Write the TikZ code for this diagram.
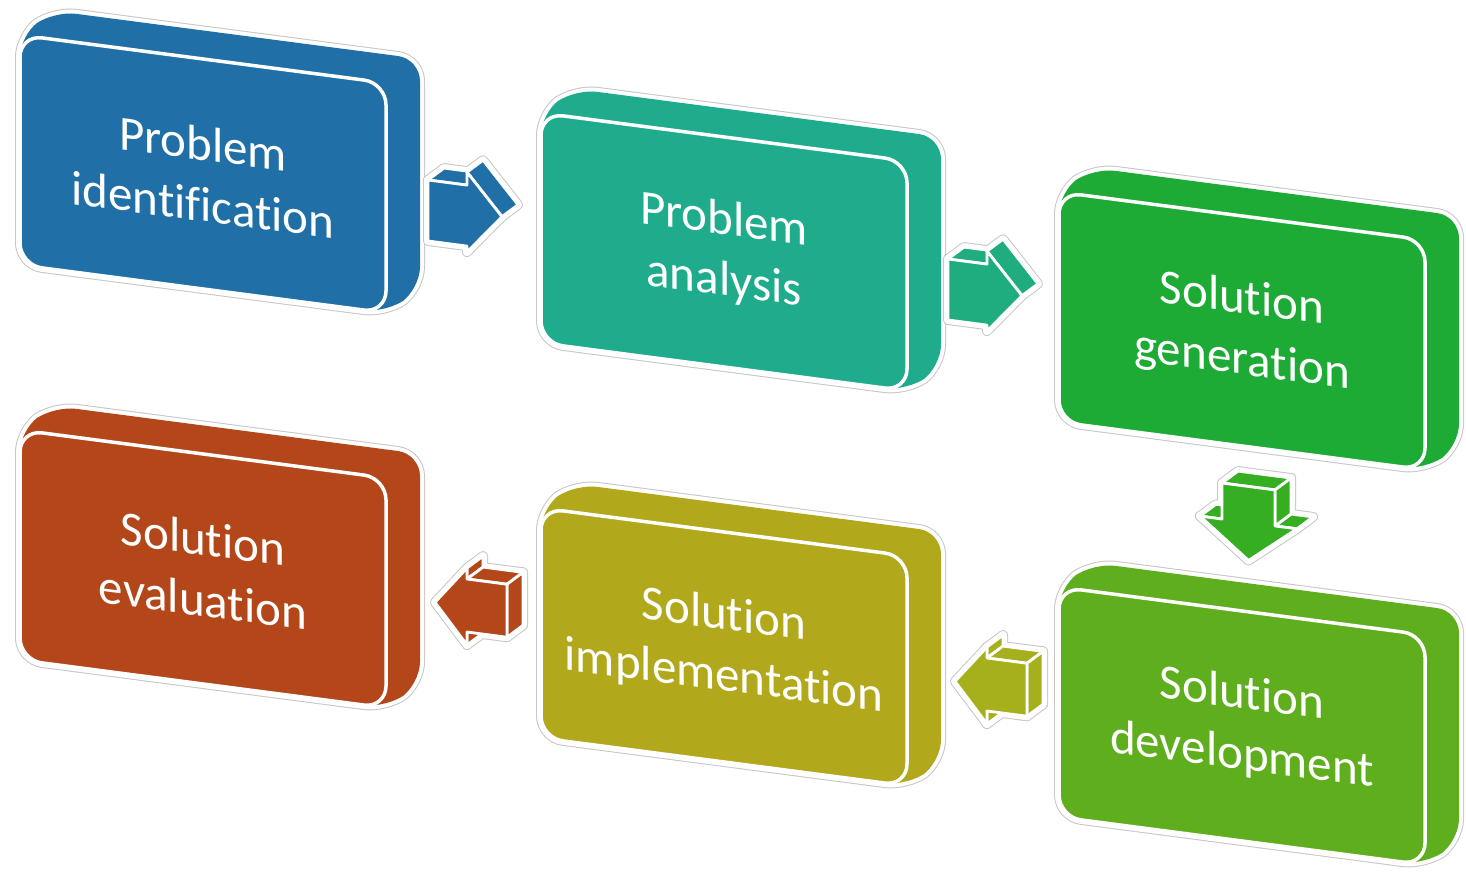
\documentclass[tikz,border=0pt]{standalone}
\usepackage{fontspec}
\setmainfont{Carlito}[Ligatures=CommonOff]
\definecolor{probblue}{HTML}{2070A7}
\definecolor{probteal}{HTML}{1FAC8C}
\definecolor{solgreen}{HTML}{1DAB36}
\definecolor{sollime}{HTML}{5FAE1E}
\definecolor{sololive}{HTML}{B1A81C}
\definecolor{solrust}{HTML}{B4471A}
\definecolor{arrteal}{HTML}{1FAD80}
\definecolor{arrgreen}{HTML}{35AE22}
\definecolor{arrlime}{HTML}{A5B01C}
\tikzset{
	glowline/.style={draw=gray!45,line width=5pt,line join=round},
	glowfill/.style={draw=white,line width=4pt,line join=round},
	facefill/.style={fill=#1,draw=white,line width=1.4pt,line join=round},
	frontface/.style={fill=#1,draw=white,line width=1.75pt},
	boxtext/.style={transform shape,text=white,align=center,font=\fontsize{24.5}{30.5}\selectfont},
}
\newcommand\rightarrowfaces[1]{
	\path[#1] (0,0) -- (16,-14) -- (55,-14) -- (39,0) -- cycle;
	\path[#1] (39,-13) -- (55,-27) -- (90,13) -- (74,27) -- cycle;
	\path[#1] (0,0) -- (39,0) -- (39,-13) -- (74,27) -- (39,67) -- (39,61) -- (0,61) -- cycle;
}
\newcommand\leftarrowfaces[1]{
	\path[#1] (0,-11) -- (16,-25) -- (16,-14) -- (0,0) -- cycle;
	\path[#1] (0,53) -- (16,39) -- (16,52) -- (0,66) -- cycle;
	\path[#1] (0,0) -- (16,-14) -- (56,-14) -- (40,0) -- cycle;
	\path[#1] (40,0) -- (56,-14) -- (56,39) -- (40,53) -- cycle;
	\path[#1] (-32,27.5) -- (0,-11) -- (0,0) -- (40,0) -- (40,53) -- (0,53) -- (0,66) -- cycle;
}
\newcommand\downarrowfaces[1]{
	\path[#1] (-22,36) -- (-6,22) -- (16,22) -- (0,36) -- cycle;
	\path[#1] (53,36) -- (69,22) -- (91,22) -- (75,36) -- cycle;
	\path[#1] (0,0) -- (16,-14) -- (69,-14) -- (53,0) -- cycle;
	\path[#1] (53,0) -- (69,-14) -- (69,22) -- (53,36) -- cycle;
	\path[#1] (0,0) -- (53,0) -- (53,36) -- (75,36) -- (26.5,74) -- (-22,36) -- (0,36) -- cycle;
}
\newcommand\blockback[1]{
	\path[rounded corners=11pt,#1] (0,0) -- (34,-28.5) -- (400,-28.5) -- (400,201.5) -- (366,230) -- (0,230) -- cycle;
}
\begin{document}
\begin{tikzpicture}[x=0.5pt,y=-0.5pt]
	\useasboundingbox (0,0) rectangle (1466,872);
	\foreach \x/\y/\c/\n/\t in {
		20/35/probblue/pi/{Problem\\identification},
		541/113/probteal/pa/{Problem\\analysis},
		1059/192/solgreen/sg/{Solution\\generation},
		20/430/solrust/se/{Solution\\evaluation},
		541/508/sololive/si/{Solution\\implementation},
		1059/587/sollime/sd/{Solution\\development}}{
		\begin{scope}[shift={(\x,\y)},yslant=-0.131]
			\blockback{glowline}
			\blockback{glowfill}
			\blockback{fill=\c}
			\path[frontface=\c,rounded corners=11pt] (0,0) -- (366,0) -- (366,230) -- (0,230) -- cycle;
			\node[boxtext] (\n) at (183,115) {\t};
		\end{scope}
	}
	\foreach \x/\y/\c in {428/180/probblue, 948/259/arrteal}{
		\begin{scope}[shift={(\x,\y)},yslant=-0.131]
			\rightarrowfaces{glowline}
			\rightarrowfaces{glowfill}
			\rightarrowfaces{facefill=\c}
		\end{scope}
	}
	\begin{scope}[shift={(1222,483)},yslant=-0.131]
		\downarrowfaces{glowline}
		\downarrowfaces{glowfill}
		\downarrowfaces{facefill=arrgreen}
	\end{scope}
	\foreach \x/\y/\c in {987/658/arrlime, 467/579/solrust}{
		\begin{scope}[shift={(\x,\y)},yslant=-0.131]
			\leftarrowfaces{glowline}
			\leftarrowfaces{glowfill}
			\leftarrowfaces{facefill=\c}
		\end{scope}
	}
\end{tikzpicture}
\end{document}
